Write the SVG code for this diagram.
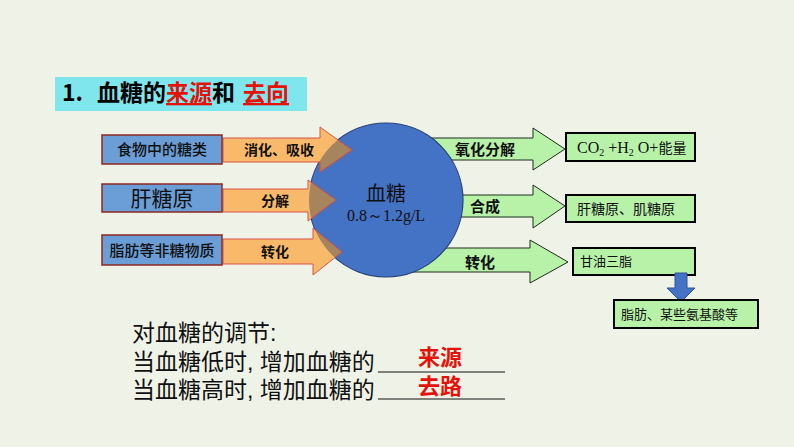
<svg xmlns="http://www.w3.org/2000/svg" width="794" height="447" viewBox="0 0 794 447">
<style>
.bg{fill:#EFF3E7}
.cjk{font-family:"Noto Sans CJK SC","Noto Sans",sans-serif}
.lcjk{font-family:"Liberation Sans","Noto Sans CJK SC",sans-serif}
.lbox{fill:#6B9DD6;stroke:#8B2A24;stroke-width:1.5}
.oarr{fill:#F9B96A;stroke:#D9534A;stroke-width:1}
.oarr2{fill:#A6845E;stroke:#C0504D;stroke-width:1}
.garr{fill:#B8F2A8;stroke:#1E2A1E;stroke-width:1}
.gbox{fill:#B8F2A8;stroke:#000;stroke-width:2}
.t15{font-size:15px;fill:#111;font-weight:500}
.lbl{font-size:14px;fill:#111;font-weight:bold}
.glbl{font-size:15px;fill:#111;font-weight:bold}
.big{font-size:23px;fill:#111}
.red{fill:#E3120B;font-weight:bold}
</style>
<defs>
<clipPath id="cc"><circle cx="386" cy="200" r="77"/></clipPath>
</defs>
<rect class="bg" x="0" y="0" width="794" height="447"/>
<g id="title">
<rect x="55" y="77" width="252" height="34" fill="#7FE6EE"/>
<text class="cjk" x="62" y="101" font-size="23" font-weight="bold" fill="#000">1.<tspan x="97">血糖的</tspan><tspan fill="#E3120B" text-decoration="underline">来源</tspan><tspan>和 </tspan><tspan x="243" fill="#E3120B" text-decoration="underline">去向</tspan></text>
</g>
<g id="connectors">
<polygon class="garr" points="420,138 533,138 533,128 565,149 533,170 533,160 420,160"/>
<polygon class="garr" points="420,195 533,195 533,185 565,206 533,228 533,217 420,217"/>
<polygon class="garr" points="410,248 530,248 530,240 568,262 530,283 530,272 410,272"/>
</g>
<g id="circle">
<circle cx="386" cy="200" r="77" fill="#4472C4" stroke="#26407A" stroke-width="1.2"/>
<text class="lcjk" x="386" y="201" font-size="20" text-anchor="middle" fill="#111">血糖</text>
<text x="386" y="221" font-family="Liberation Serif,serif" font-size="16" text-anchor="middle" fill="#111">0.8～1.2g/L</text>
</g>
<g id="orange-arrows">
<polygon class="oarr" points="223,138 320,138 320,127 352,150 320,172 320,162 223,162"/>
<polygon class="oarr" points="223,189 308,189 308,180 336,200 308,221 308,212 223,212"/>
<polygon class="oarr" points="223,239 313,239 313,228 342,252 313,275 313,264 223,264"/>
<g clip-path="url(#cc)">
<polygon class="oarr2" points="223,138 320,138 320,127 352,150 320,172 320,162 223,162"/>
<polygon class="oarr2" points="223,189 308,189 308,180 336,200 308,221 308,212 223,212"/>
<polygon class="oarr2" points="223,239 313,239 313,228 342,252 313,275 313,264 223,264"/>
</g>
<text class="cjk lbl" x="279" y="155" text-anchor="middle">消化、吸收</text>
<text class="cjk lbl" x="275" y="206" text-anchor="middle">分解</text>
<text class="cjk lbl" x="275" y="257" text-anchor="middle">转化</text>
</g>
<g id="food">
<rect class="lbox" x="102" y="135" width="120" height="29"/>
<text class="cjk t15" x="162" y="155" text-anchor="middle">食物中的糖类</text>
</g>
<g id="glycogen">
<rect class="lbox" x="102" y="184" width="120" height="28"/>
<text class="cjk" x="162" y="206" font-size="21" text-anchor="middle" fill="#111">肝糖原</text>
</g>
<g id="nonsugar">
<rect class="lbox" x="102" y="235" width="120" height="30"/>
<text class="cjk t15" x="162" y="256" text-anchor="middle">脂肪等非糖物质</text>
</g>
<g id="green-labels">
<text class="cjk glbl" x="485" y="155" text-anchor="middle">氧化分解</text>
<text class="cjk glbl" x="485" y="212" text-anchor="middle">合成</text>
<text class="cjk glbl" x="480" y="268" text-anchor="middle">转化</text>
</g>
<g id="co2">
<rect class="gbox" x="566" y="133" width="129" height="28"/>
<text x="577" y="153" font-family="Liberation Serif,serif" font-size="16" fill="#111">CO<tspan font-size="10" dy="3">2</tspan><tspan dy="-3"> +H</tspan><tspan font-size="10" dy="3">2</tspan><tspan dy="-3"> O+</tspan><tspan class="cjk" font-size="14">能量</tspan></text>
</g>
<g id="liver-muscle">
<rect class="gbox" x="566" y="195" width="129" height="27"/>
<text class="cjk" x="577" y="214" font-size="14" fill="#111">肝糖原、肌糖原</text>
</g>
<g id="triglyceride">
<rect class="gbox" x="573" y="248" width="122" height="27"/>
<text class="cjk" x="580" y="266" font-size="13" fill="#111">甘油三脂</text>
</g>
<g id="down-arrow">
<polygon points="675,273 687,273 687,288 695,288 681,302 667,288 675,288" fill="#4472C4" stroke="#2F5597" stroke-width="1"/>
</g>
<g id="fat-amino">
<rect class="gbox" x="614" y="300" width="144" height="28"/>
<text class="cjk" x="621" y="319" font-size="13" fill="#111">脂肪、某些氨基酸等</text>
</g>
<g id="regulation">
<text class="lcjk big" x="132" y="341">对血糖的调节:</text>
<text class="lcjk big" x="132" y="370">当血糖低时, 增加血糖的</text>
<text class="lcjk big" x="132" y="398">当血糖高时, 增加血糖的</text>
<line x1="378" y1="372" x2="505" y2="372" stroke="#111" stroke-width="1.2"/>
<line x1="378" y1="399" x2="505" y2="399" stroke="#111" stroke-width="1.2"/>
<text class="lcjk red" x="440" y="365" font-size="22" text-anchor="middle">来源</text>
<text class="lcjk red" x="440" y="394" font-size="22" text-anchor="middle">去路</text>
</g>
</svg>
